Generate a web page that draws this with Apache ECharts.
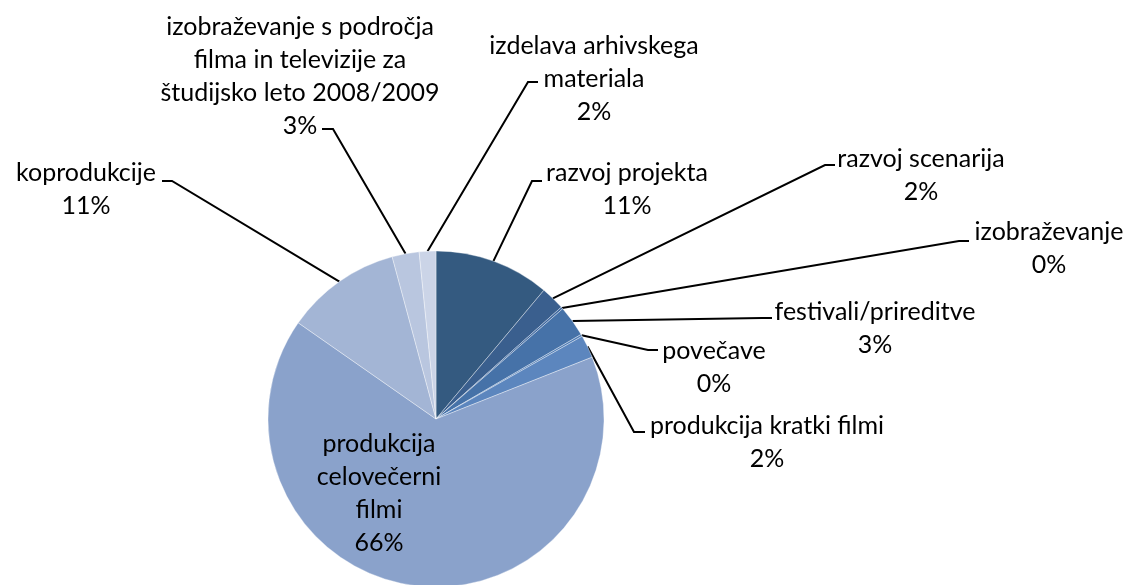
<!DOCTYPE html>
<html>
<head>
    <meta charset="utf-8">
    <title>Pie</title>
</head>
<body style="margin:0;background:#fff;">
<script src="https://cdn.jsdelivr.net/npm/echarts@6/dist/echarts.min.js" type="text/javascript" charset="utf-8"></script>
<div id="main" style="width: 1129px;height:585px;"></div>
<script type="text/javascript">
    // podatki
    var categories = [
        'razvoj projekta',
        'razvoj scenarija',
        'izobraževanje',
        'festivali/prireditve',
        'povečave',
        'produkcija kratki filmi',
        'produkcija\ncelovečerni\nfilmi',
        'koprodukcije',
        'izobraževanje s področja\nfilma in televizije za\nštudijsko leto 2008/2009',
        'izdelava arhivskega\nmateriala'
    ];
    var values = [11.1, 2.3, 0.2, 3.0, 0.2, 2.2, 65.7, 11.1, 2.6, 1.6];
    var colors = ['#345A80', '#3A5F8E', '#3F68A0', '#4672A8', '#4F7CB5', '#5C86BE',
        '#8AA2CB', '#A3B5D5', '#B9C6DF', '#CBD4E7'];

    // postavitev oznak: center x, zgornji y, pregib, konec črte
    var labelPos = [
        [627, 156, [532, 181], [542, 181]],
        [921, 142, [825, 165], [835, 165]],
        [1049, 215, [959, 241], [969, 241]],
        [875, 295, [762, 318], [772, 318]],
        [714, 334, [648, 350], [658, 350]],
        [767, 409, [634, 432], [645, 432]],
        [379, 427, null, null],
        [86, 156, [172, 181], [162, 181]],
        [300, 10, [333, 129], [322, 129]],
        [594, 29, [528, 82], [538, 82]]
    ];

    var cx = 436, cy = 419, r = 168;
    var total = values.reduce(function (a, b) { return a + b; }, 0);

    function edgePoint(i) {
        var before = 0;
        for (var k = 0; k < i; k++) before += values[k];
        var a = (before + values[i] / 2) / total * Math.PI * 2;
        return [cx + r * Math.sin(a), cy - r * Math.cos(a)];
    }

    var data = categories.map(function (name, i) {
        var item = {name: name, value: values[i], itemStyle: {color: colors[i]}};
        if (!labelPos[i][2]) item.labelLine = {show: false};
        return item;
    });

    var myChart = echarts.init(document.getElementById('main'));
    var option = {
        animation: false,
        series: [
            {
                type: 'pie',
                center: [cx, cy],
                radius: r,
                startAngle: 90,
                clockwise: true,
                percentPrecision: 0,
                avoidLabelOverlap: false,
                data: data,
                itemStyle: {
                    borderColor: 'rgba(255,255,255,0.45)',
                    borderWidth: 0.8
                },
                label: {
                    show: true,
                    position: 'outside',
                    formatter: '{b}\n{d}%',
                    fontFamily: 'Lato',
                    fontSize: 25,
                    lineHeight: 33,
                    color: '#000'
                },
                labelLine: {
                    show: true,
                    lineStyle: {color: '#000', width: 2}
                },
                labelLayout: function (params) {
                    var p = labelPos[params.dataIndex];
                    var res = {x: p[0], y: p[1], align: 'center', verticalAlign: 'top'};
                    if (p[2]) {
                        var start = (params.labelLinePoints && params.labelLinePoints[0]) || edgePoint(params.dataIndex);
                        res.labelLinePoints = [start, p[2], p[3]];
                    }
                    return res;
                }
            }
        ]
    };
    myChart.setOption(option);
</script>
</body>
</html>
